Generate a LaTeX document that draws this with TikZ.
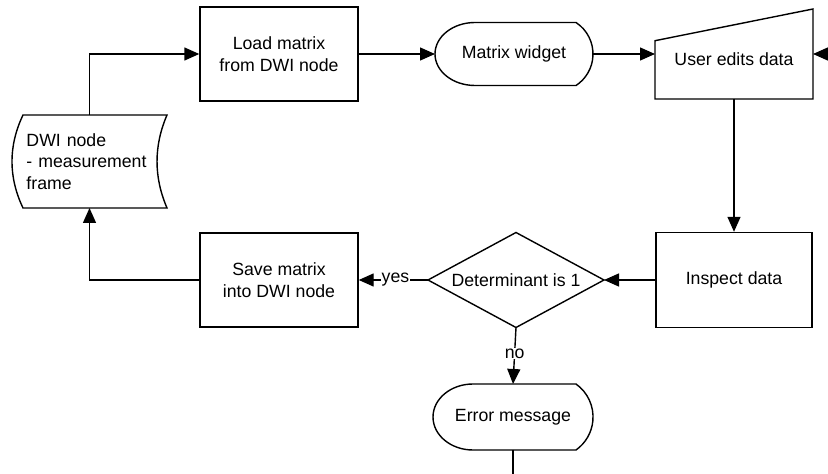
\documentclass[tikz,border=0pt]{standalone}
\usepackage{fontspec}
\setmainfont{Liberation Sans}
\usetikzlibrary{arrows.meta,calc}
\begin{document}
\begin{tikzpicture}[x=1pt,y=1pt,
  every node/.style={font=\fontsize{17.7}{21.5}\selectfont},
  lw/.style={line width=1.4pt},
  procbox/.style 2 args={draw, lw, minimum width=#1, minimum height=#2,
    inner sep=0pt, align=center},
  holder/.style 2 args={minimum width=#1, minimum height=#2,
    inner sep=0pt, outer sep=0pt, align=center},
  outline/.style={draw, lw, line join=miter},
  conn/.style={lw, -{Triangle[length=15pt,width=13pt]}},
  lbl/.style={fill=white, inner sep=1pt}
]
% canvas
\path[use as bounding box, clip] (0,0) rectangle (828,474);
\fill[white] (0,0) rectangle (828,474);

% nodes
\node[procbox={158}{94}] (load) at (279,420) {Load matrix\\from DWI node};
\node[holder={158}{63}] (mw) at (514,420) {Matrix widget};
\node[holder={158}{90}, text height=24pt, text depth=0pt] (ue) at (734,420) {User edits data};
\node[procbox={156}{95}] (ins) at (734,194) {Inspect data};
\node[holder={176}{95}] (det) at (516,194) {Determinant is 1};
\node[procbox={158}{94}] (save) at (279,194) {Save matrix\\into DWI node};
\node[holder={155}{93}, text width=126pt, align=left] (dwi) at (89.5,312.5)
  {DWI node\\- measurement\\frame};
\node[holder={160}{66}] (err) at (513,57) {Error message};

% display shapes
\draw[outline] ($(mw.north west)+(40,0)$) -- ($(mw.north east)+(-17,0)$)
  arc[start angle=56.7, end angle=-56.7, radius=37.7]
  -- ($(mw.south west)+(40,0)$)
  arc[start angle=270, end angle=90, x radius=40, y radius=31.5] -- cycle;
\draw[outline] ($(err.north west)+(40,0)$) -- ($(err.north east)+(-17,0)$)
  arc[start angle=54.6, end angle=-54.6, radius=40.5]
  -- ($(err.south west)+(40,0)$)
  arc[start angle=270, end angle=90, x radius=40, y radius=33] -- cycle;

% manual input
\draw[outline] ($(ue.south west)+(0,58.3)$) -- (ue.north east)
  -- (ue.south east) -- (ue.south west) -- cycle;

% decision
\draw[outline] (det.west) -- (det.north) -- (det.east) -- (det.south) -- cycle;

% stored data
\draw[outline] ($(dwi.north west)+(11,0)$) -- (dwi.north east)
  .. controls ($(dwi.north east)+(-13.3,-31)$) and ($(dwi.south east)+(-13.3,31)$)
  .. (dwi.south east)
  -- ($(dwi.south west)+(11,0)$)
  .. controls ($(dwi.south west)+(-3.7,31)$) and ($(dwi.north west)+(-3.7,-31)$)
  .. ($(dwi.north west)+(11,0)$) -- cycle;

% connectors
\draw[conn] (dwi.north) |- (load.west);
\draw[conn] (load.east) -- (mw.west);
\draw[conn] (mw.east) -- (ue.west);
\draw[conn] (ue.south) -- (ins.north);
\draw[conn] (ins.west) -- (det.east);
\draw[conn] (det.west) -- node[lbl, pos=0.47] {yes} (save.east);
\draw[conn] (save.west) -| (dwi.south);
\draw[conn] (det.south) -- node[lbl, pos=0.46] {no} (err.north);
\coordinate (loopturn) at (850,-0.9);
\draw[conn] (err.south) |- (loopturn) |- (ue.east);
\end{tikzpicture}
\end{document}
